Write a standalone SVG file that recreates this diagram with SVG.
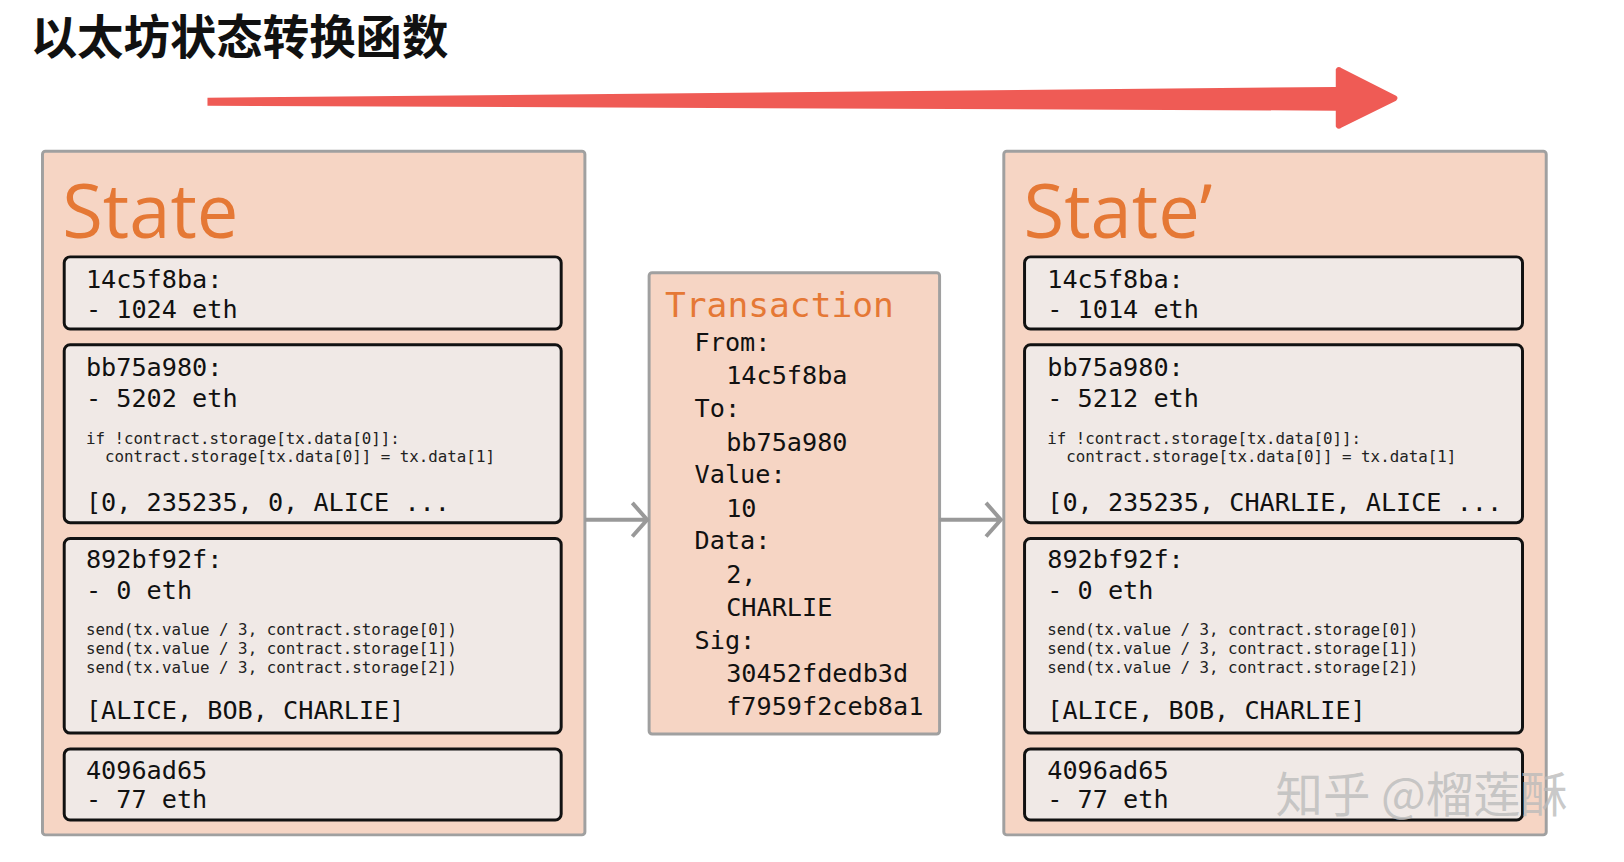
<svg xmlns="http://www.w3.org/2000/svg" width="1624" height="862" viewBox="0 0 1624 862">
<style>
.panel{fill:#f6d5c4;stroke:#a0a0a0;stroke-width:3}
.box{fill:#f0e9e6;stroke:#111;stroke-width:3}
.m{font-family:"DejaVu Sans Mono",monospace;font-size:25.5px;fill:#111}
.c{font-family:"DejaVu Sans Mono",monospace;font-size:16px;fill:#222}
.st{font-family:"Open Sans","DejaVu Sans",sans-serif;font-size:75px;fill:#e57835}
.conn{stroke:#999;stroke-width:4;fill:none}
</style>
<rect width="1624" height="862" fill="#fff"/>
<g transform="scale(0.988)">
<text x="31" y="55" font-family="Noto Sans CJK SC,sans-serif" font-weight="bold" font-size="47" fill="#111">以太坊状态转换函数</text>
<path d="M210,99 L1352,88 L1352,70 Q1354,66 1358,69 L1413,97 Q1416,99 1413,102 L1358,129 Q1354,132 1352,128 L1352,112 L210,107 Z" fill="#ef5b55"/>
<g id="state">
<rect class="panel" x="43" y="153" width="549" height="692" rx="3"/>
<text class="st" x="63" y="241">State</text>
<rect class="box" x="65" y="260" width="503" height="73" rx="6"/>
<text class="m" x="87" y="291">14c5f8ba:</text><text class="m" x="87" y="322">- 1024 eth</text>
<rect class="box" x="65" y="349" width="503" height="180" rx="6"/>
<text class="m" x="87" y="381">bb75a980:</text><text class="m" x="87" y="412">- 5202 eth</text>
<text class="c" x="87" y="449">if !contract.storage[tx.data[0]]:</text>
<text class="c" x="87" y="468" xml:space="preserve">  contract.storage[tx.data[0]] = tx.data[1]</text>
<text class="m" x="87" y="517">[0, 235235, 0, ALICE ...</text>
<rect class="box" x="65" y="545" width="503" height="197" rx="6"/>
<text class="m" x="87" y="575">892bf92f:</text><text class="m" x="87" y="606">- 0 eth</text>
<text class="c" x="87" y="643">send(tx.value / 3, contract.storage[0])</text>
<text class="c" x="87" y="662">send(tx.value / 3, contract.storage[1])</text>
<text class="c" x="87" y="681">send(tx.value / 3, contract.storage[2])</text>
<text class="m" x="87" y="728">[ALICE, BOB, CHARLIE]</text>
<rect class="box" x="65" y="758" width="503" height="72" rx="6"/>
<text class="m" x="87" y="788">4096ad65</text><text class="m" x="87" y="818">- 77 eth</text>
</g>
<g id="transaction">
<rect class="panel" x="657" y="276" width="294" height="467" rx="3"/>
<text x="673" y="321" font-family="DejaVu Sans Mono,monospace" font-size="35" fill="#e57835">Transaction</text>
<text class="m" x="703" y="355">From:</text><text class="m" x="735" y="389">14c5f8ba</text>
<text class="m" x="703" y="422">To:</text><text class="m" x="735" y="456">bb75a980</text>
<text class="m" x="703" y="489">Value:</text><text class="m" x="735" y="523">10</text>
<text class="m" x="703" y="556">Data:</text><text class="m" x="735" y="590">2,</text><text class="m" x="735" y="623">CHARLIE</text>
<text class="m" x="703" y="657">Sig:</text><text class="m" x="735" y="690">30452fdedb3d</text><text class="m" x="735" y="724">f7959f2ceb8a1</text>
</g>
<g id="state2">
<rect class="panel" x="1016" y="153" width="549" height="692" rx="3"/>
<text class="st" x="1036" y="241">State’</text>
<rect class="box" x="1037" y="260" width="504" height="73" rx="6"/>
<text class="m" x="1060" y="291">14c5f8ba:</text><text class="m" x="1060" y="322">- 1014 eth</text>
<rect class="box" x="1037" y="349" width="504" height="180" rx="6"/>
<text class="m" x="1060" y="381">bb75a980:</text><text class="m" x="1060" y="412">- 5212 eth</text>
<text class="c" x="1060" y="449">if !contract.storage[tx.data[0]]:</text>
<text class="c" x="1060" y="468" xml:space="preserve">  contract.storage[tx.data[0]] = tx.data[1]</text>
<text class="m" x="1060" y="517">[0, 235235, CHARLIE, ALICE ...</text>
<rect class="box" x="1037" y="545" width="504" height="197" rx="6"/>
<text class="m" x="1060" y="575">892bf92f:</text><text class="m" x="1060" y="606">- 0 eth</text>
<text class="c" x="1060" y="643">send(tx.value / 3, contract.storage[0])</text>
<text class="c" x="1060" y="662">send(tx.value / 3, contract.storage[1])</text>
<text class="c" x="1060" y="681">send(tx.value / 3, contract.storage[2])</text>
<text class="m" x="1060" y="728">[ALICE, BOB, CHARLIE]</text>
<rect class="box" x="1037" y="758" width="504" height="72" rx="6"/>
<text class="m" x="1060" y="788">4096ad65</text><text class="m" x="1060" y="818">- 77 eth</text>
</g>
<g id="connectors">
<path class="conn" d="M592,526 H655 M640,509 L655,526 L640,543"/>
<path class="conn" d="M951,526 H1013 M998,509 L1013,526 L998,543"/>
</g>
<text x="1291" y="822" font-family="Noto Sans CJK SC,sans-serif" font-size="48" fill="#bbb" fill-opacity="0.8">知乎 @榴莲酥</text>
</g>
</svg>
